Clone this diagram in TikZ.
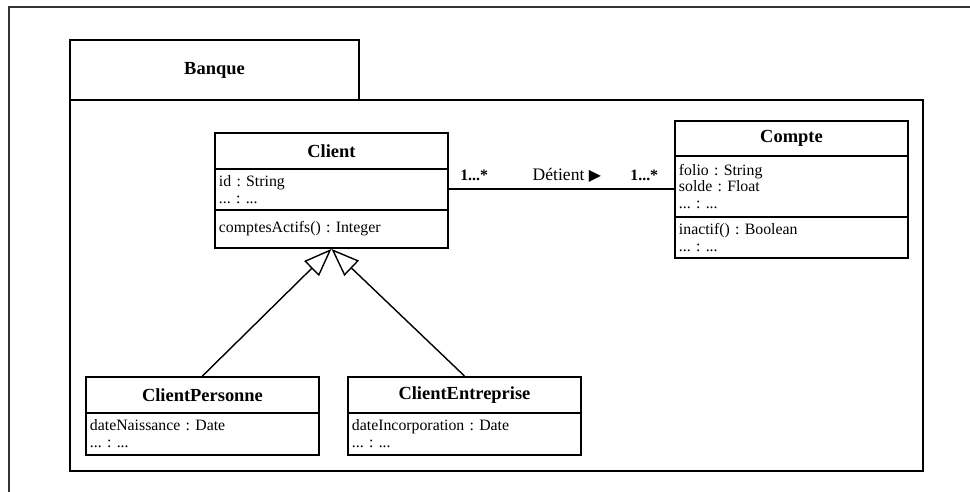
\documentclass[tikz,border=0pt]{standalone}
\usepackage{fontspec}
\setmainfont{Liberation Serif}
\newfontfamily\symbfont{DejaVu Sans}
\usepackage{tikz}
\usetikzlibrary{arrows.meta}
\frenchspacing
\newlength{\pix}
\setlength{\pix}{0.02cm}
\tikzset{
    uml/.style={draw, line width=1.1pt, anchor=north west, inner sep=0pt},
    classname/.style={uml, minimum width=233\pix, font=\bfseries\fontsize{10.5}{12}\selectfont},
    compart/.style={uml, text width=225\pix, inner xsep=4\pix, align=left, font=\fontsize{9}{9.6}\selectfont},
    gen/.style={line width=0.8pt, -{Triangle[open, length=0.56cm, width=0.42cm]}},
    mult/.style={anchor=base, yshift=9\pix, font=\bfseries\fontsize{9}{10}\selectfont},
}

\begin{document}
\begin{tikzpicture}[x=0.02cm, y=-0.02cm]
\useasboundingbox (0,0) rectangle (970,492);
% page frame
\draw[line width=1.3pt, black!80] (9,500) -- (9,7) -- (980,7);

% package
\node[uml, minimum width=289\pix, minimum height=60\pix, font=\bfseries\fontsize{10.5}{12}\selectfont] (banque) at (69,39) {Banque};
\node[uml, minimum width=853\pix, minimum height=371\pix] (banque-body) at (69,99) {};

% classes
\node[classname, minimum height=36\pix] (client) at (214,132) {Client};
\node[compart, minimum height=41\pix] (client-attr) at (214,168) {id : String\\... : ...};
\node[compart, minimum height=38\pix] (client-ops) at (214,209) {comptesActifs() : Integer};

\node[classname, minimum height=35\pix] (compte) at (674,120) {Compte};
\node[compart, minimum height=61\pix] (compte-attr) at (674,155) {folio : String\\solde : Float\\... : ...};
\node[compart, minimum height=41\pix] (compte-ops) at (674,216) {inactif() : Boolean\\... : ...};

\node[classname, minimum height=36\pix] (personne) at (85,376) {ClientPersonne};
\node[compart, minimum height=42\pix] (personne-attr) at (85,412) {dateNaissance : Date\\... : ...};

\node[classname, minimum height=36\pix] (entreprise) at (347,376) {ClientEntreprise};
\node[compart, minimum height=42\pix] (entreprise-attr) at (347,412) {dateIncorporation : Date\\... : ...};

% association
\draw[line width=1.1pt] (client-attr.east) -- (client-attr.east -| compte-attr.west)
    node[mult, pos=.112] {1...*}
    node[pos=.524, anchor=base, yshift=9\pix, font=\fontsize{10}{12}\selectfont] {Détient~{\symbfont\fontsize{9}{10}\selectfont ▶}}
    node[mult, pos=.868] {1...*};

% generalisation
\draw[gen] (personne.north) -- (client-ops.south);
\draw[gen] (entreprise.north) -- (client-ops.south);
\end{tikzpicture}
\end{document}
